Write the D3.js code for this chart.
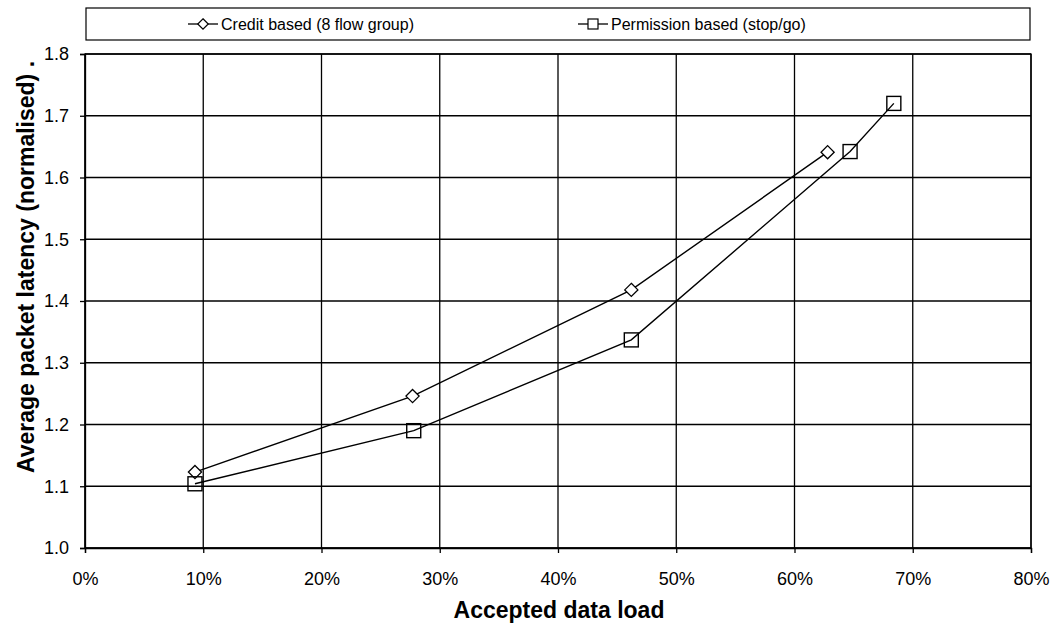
<!DOCTYPE html>
<html><head><meta charset="utf-8">
<script src="https://cdn.jsdelivr.net/npm/d3@7"></script>
<style>body{margin:0;background:#fff;} text{font-family:"Liberation Sans",Arial,sans-serif;fill:#000;}</style>
</head><body><svg id="c" width="1063" height="625"></svg>
<script>
const xTicks = [0,0.1,0.2,0.3,0.4,0.5,0.6,0.7,0.8];
const yTicks = [1.0,1.1,1.2,1.3,1.4,1.5,1.6,1.7,1.8];
const creditX = [0.093,0.277,0.462,0.628];
const creditY = [1.123,1.246,1.418,1.641];
const permX = [0.093,0.278,0.462,0.647,0.684];
const permY = [1.104,1.190,1.337,1.642,1.720];
const seriesNames = ["Credit based (8 flow group)","Permission based (stop/go)"];

const svg = d3.select("#c");
const L=85,R=1031,T=54,B=548;
const x = d3.scaleLinear().domain([0,0.8]).range([L,R]);
const y = d3.scaleLinear().domain([1.0,1.8]).range([B,T]);

// gridlines
svg.append("g").selectAll("line").data(xTicks).join("line")
 .attr("x1",d=>x(d)).attr("x2",d=>x(d)).attr("y1",T).attr("y2",B)
 .attr("stroke","#000").attr("stroke-width",1.3);
svg.append("g").selectAll("line").data(yTicks).join("line")
 .attr("x1",L).attr("x2",R).attr("y1",d=>y(d)).attr("y2",d=>y(d))
 .attr("stroke","#000").attr("stroke-width",1.3);

const xa = svg.append("g").attr("transform",`translate(0,${B})`)
 .call(d3.axisBottom(x).tickValues(xTicks).tickFormat(d3.format(".0%")).tickSize(5).tickPadding(19));
const ya = svg.append("g").attr("transform",`translate(${L},0)`)
 .call(d3.axisLeft(y).tickValues(yTicks).tickFormat(d3.format(".1f")).tickSize(5).tickPadding(11));
[xa,ya].forEach(a=>{a.select(".domain").attr("stroke","#000").attr("stroke-width",1.3);
 a.selectAll(".tick line").attr("stroke","#000").attr("stroke-width",1.3);
 a.selectAll("text").attr("font-size",18).attr("font-family","Liberation Sans, Arial, sans-serif").attr("fill","#000");});

// frame
svg.append("rect").attr("x",L).attr("y",T).attr("width",R-L).attr("height",B-T)
 .attr("fill","none").attr("stroke","#000").attr("stroke-width",1.3);

const line = d3.line().x(d=>x(d[0])).y(d=>y(d[1]));
const cData = creditX.map((v,i)=>[v,creditY[i]]);
const pData = permX.map((v,i)=>[v,permY[i]]);
svg.append("path").attr("d",line(cData)).attr("fill","none").attr("stroke","#000").attr("stroke-width",1.4);
svg.append("path").attr("d",line(pData)).attr("fill","none").attr("stroke","#000").attr("stroke-width",1.4);

const diamond = d3.symbol().type(d3.symbolDiamond2).size(110);
svg.append("g").selectAll("path").data(cData).join("path")
 .attr("transform",d=>`translate(${x(d[0])},${y(d[1])})`).attr("d",diamond)
 .attr("fill","#fff").attr("stroke","#000").attr("stroke-width",1.3);
svg.append("g").selectAll("rect").data(pData).join("rect")
 .attr("x",d=>x(d[0])-7).attr("y",d=>y(d[1])-7).attr("width",14).attr("height",14)
 .attr("fill","none").attr("stroke","#000").attr("stroke-width",1.4);

// axis titles
svg.append("text").attr("x",(L+R)/2+1).attr("y",618).attr("text-anchor","middle")
 .attr("font-size",23).attr("font-weight","bold").text("Accepted data load");
svg.append("text").attr("transform",`translate(34,${(T+B)/2-34}) rotate(-90)`).attr("text-anchor","middle")
 .attr("font-size",23).attr("font-weight","bold").text("Average packet latency (normalised) .");

// legend
svg.append("rect").attr("x",86).attr("y",8).attr("width",944).attr("height",32)
 .attr("fill","#fff").attr("stroke","#000").attr("stroke-width",1.2);
const lg = [{x:188,sym:"d"},{x:578,sym:"s"}];
lg.forEach((l,i)=>{
 svg.append("line").attr("x1",l.x).attr("x2",l.x+30).attr("y1",24).attr("y2",24).attr("stroke","#000").attr("stroke-width",1.3);
 if(l.sym==="d") svg.append("path").attr("transform",`translate(${l.x+15},24)`).attr("d",d3.symbol().type(d3.symbolDiamond2).size(70)).attr("fill","#fff").attr("stroke","#000").attr("stroke-width",1.2);
 else svg.append("rect").attr("x",l.x+10).attr("y",19).attr("width",10).attr("height",10).attr("fill","#fff").attr("stroke","#000").attr("stroke-width",1.2);
 svg.append("text").attr("x",l.x+33).attr("y",30).attr("font-size",16).text(seriesNames[i]);
});
</script></body></html>
